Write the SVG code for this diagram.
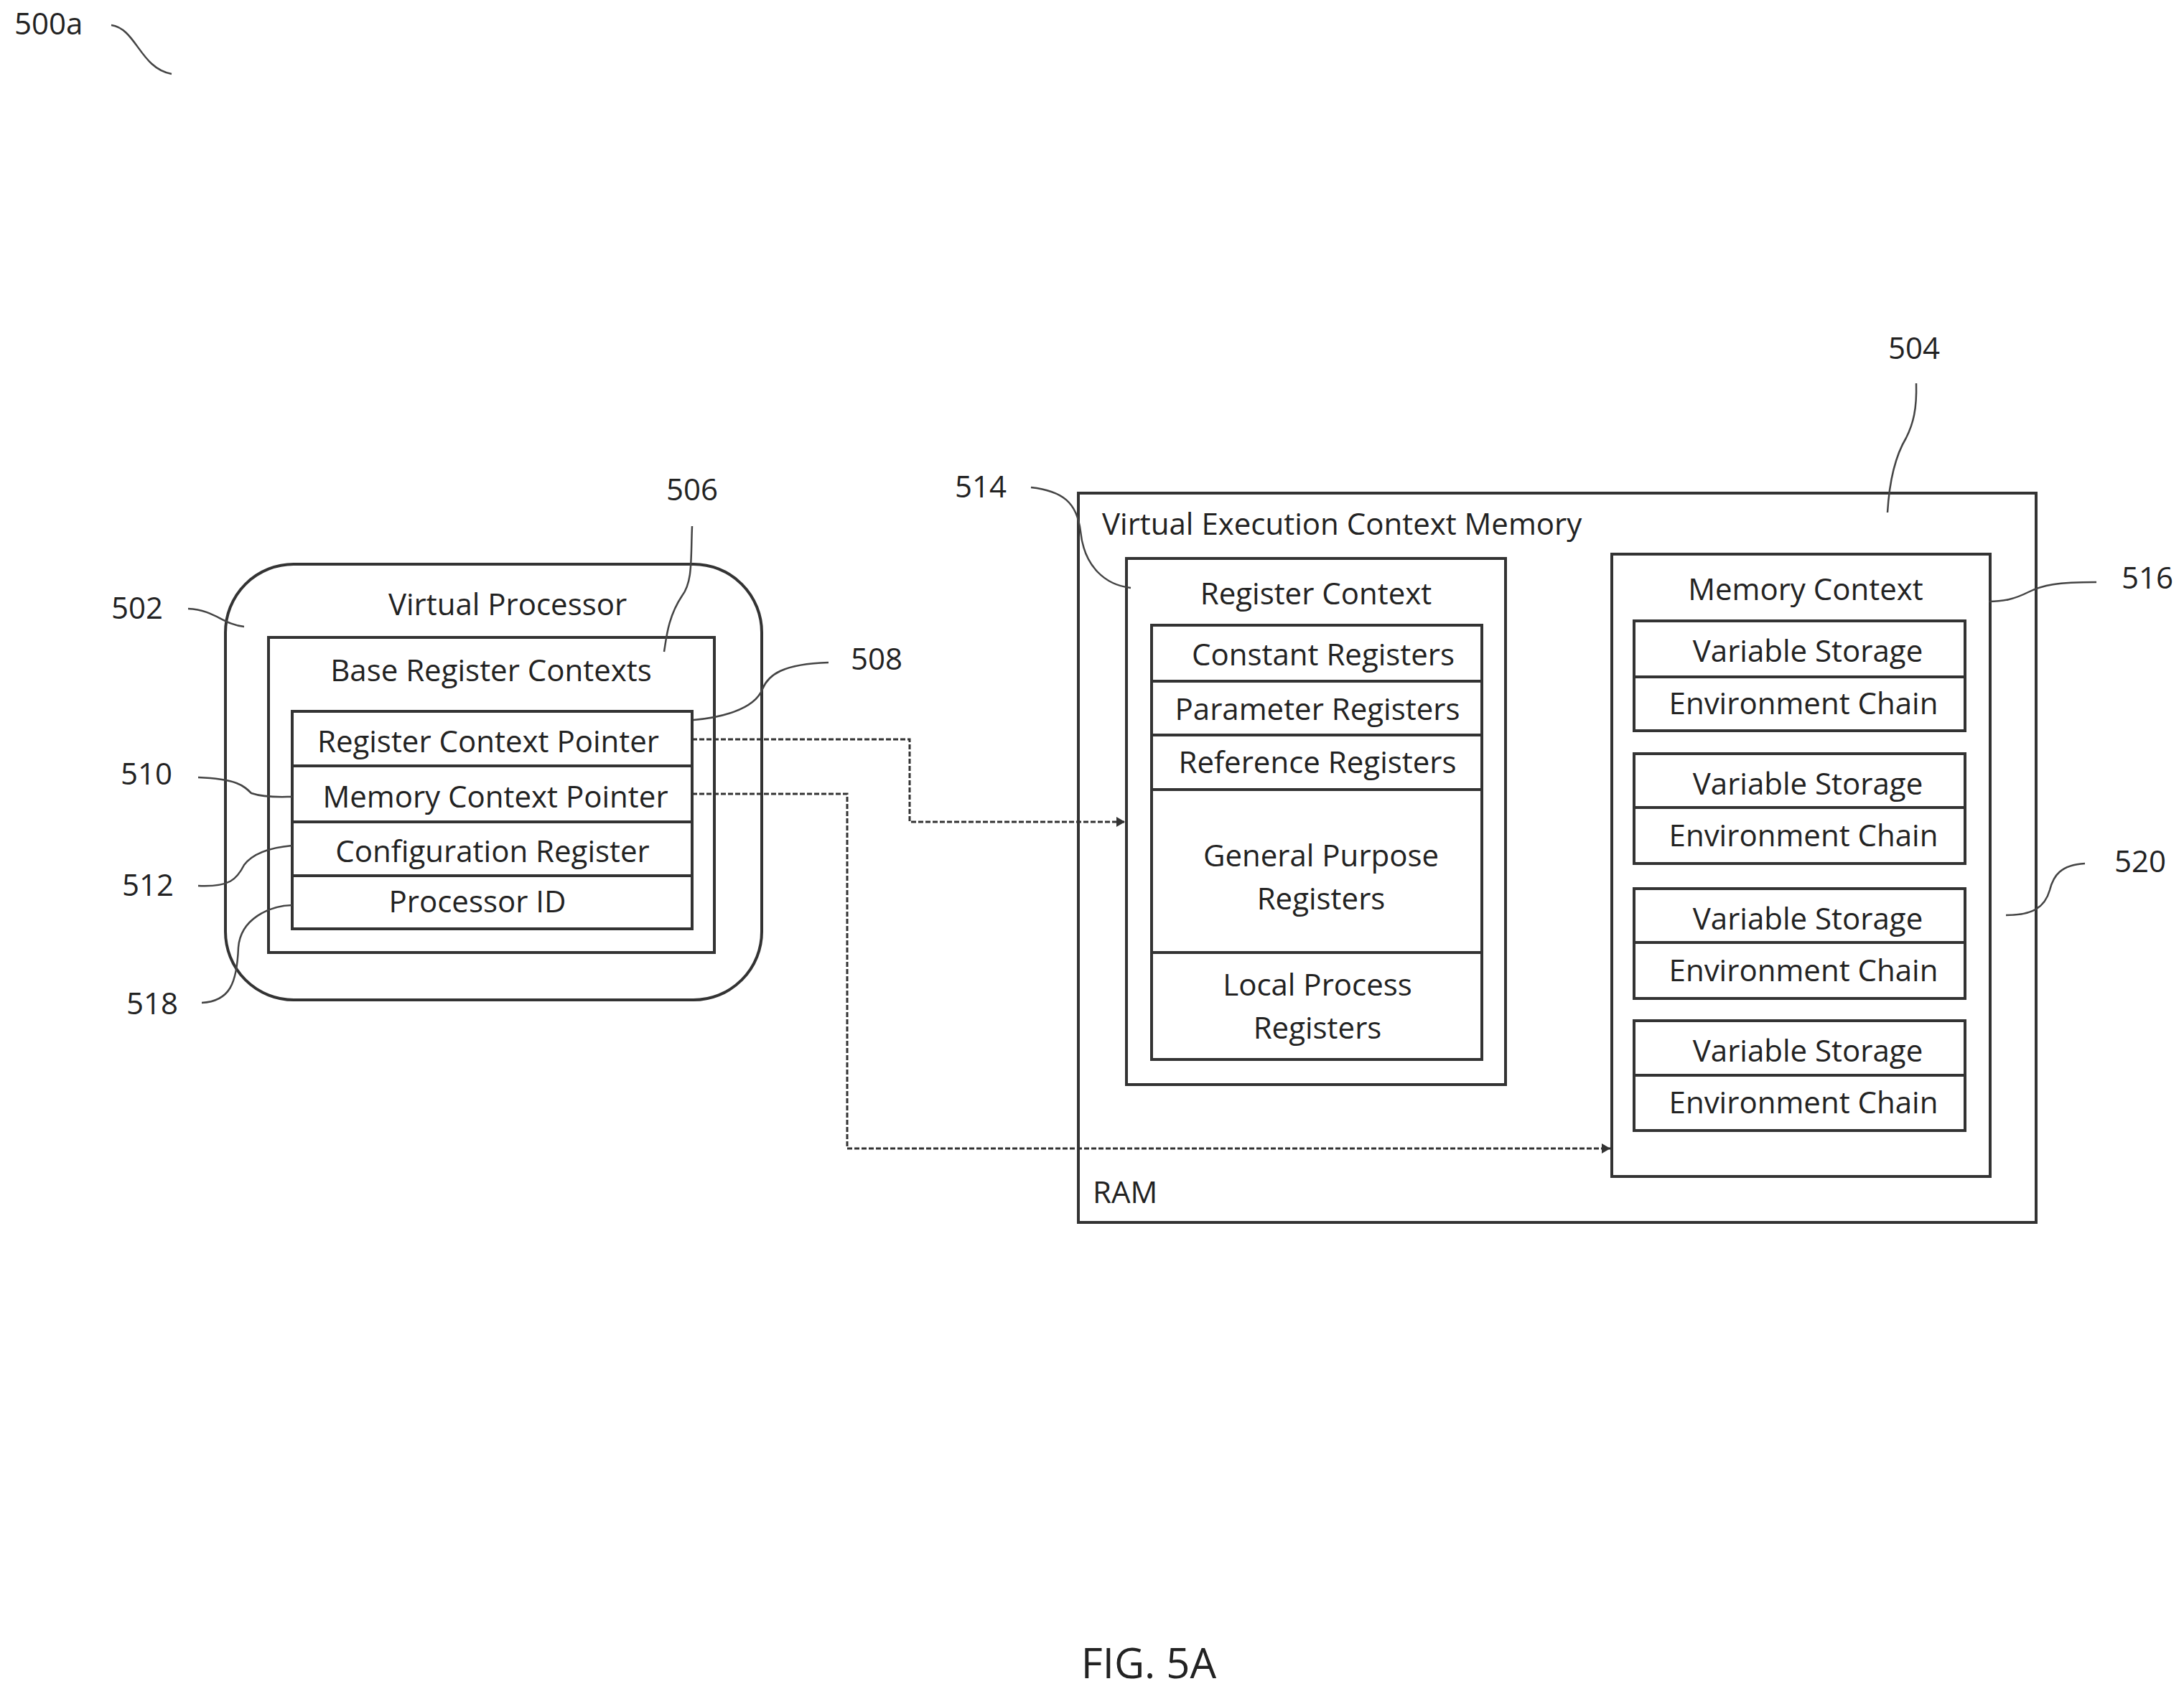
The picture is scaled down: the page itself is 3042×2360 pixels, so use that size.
<svg xmlns="http://www.w3.org/2000/svg" width="3042" height="2360" viewBox="0 0 3042 2360">
<style>
text{font-family:"Open Sans","Liberation Sans",sans-serif;font-size:42px;fill:#222}
.c{text-anchor:middle}
.b{fill:none;stroke:#333;stroke-width:4}
.l{fill:none;stroke:#444;stroke-width:2.5}
.k{fill:none;stroke:#333;stroke-width:3;stroke-dasharray:7 3}
</style>
<defs><marker id="a" markerWidth="14" markerHeight="14" refX="12" refY="7" orient="auto" markerUnits="userSpaceOnUse"><path d="M0,0 L12,7 L0,14 Z" fill="#333"/></marker></defs>
<rect width="3042" height="2360" fill="#fff"/>
<text x="20" y="48">500a</text>
<path class="l" d="M155,35 C190,40 195,95 239,103"/>
<g id="n502"><rect class="b" x="314" y="786" width="747" height="607" rx="95"/><text class="c" x="707" y="857">Virtual Processor</text></g>
<g id="n506"><rect class="b" x="374" y="888" width="621" height="439"/><text class="c" x="684" y="949">Base Register Contexts</text></g>
<g id="n508"><rect class="b" x="407" y="991" width="557" height="76"/><text class="c" x="680" y="1048">Register Context Pointer</text></g>
<g id="n510"><rect class="b" x="407" y="1067" width="557" height="78"/><text class="c" x="690" y="1125">Memory Context Pointer</text></g>
<g id="n512"><rect class="b" x="407" y="1145" width="557" height="75"/><text class="c" x="686" y="1201">Configuration Register</text></g>
<g id="n518"><rect class="b" x="407" y="1220" width="557" height="74"/><text class="c" x="665" y="1271">Processor ID</text></g>
<g id="n504"><rect class="b" x="1502" y="687" width="1334" height="1016"/><text x="1535" y="745">Virtual Execution Context Memory</text><text x="1522" y="1676">RAM</text></g>
<g id="n514"><rect class="b" x="1569" y="778" width="528" height="733"/><text class="c" x="1833" y="842">Register Context</text>
<rect class="b" x="1604" y="871" width="460" height="605"/>
<path class="b" d="M1604,949H2064M1604,1024H2064M1604,1100H2064M1604,1327H2064"/>
<text class="c" x="1843" y="927">Constant Registers</text>
<text class="c" x="1835" y="1003">Parameter Registers</text>
<text class="c" x="1835" y="1077">Reference Registers</text>
<text class="c" x="1840" y="1207">General Purpose</text>
<text class="c" x="1840" y="1267">Registers</text>
<text class="c" x="1835" y="1387">Local Process</text>
<text class="c" x="1835" y="1447">Registers</text></g>
<g id="n516"><rect class="b" x="2245" y="772" width="527" height="867"/><text class="c" x="2515" y="836">Memory Context</text></g>
<g id="n520">
<rect class="b" x="2276" y="865" width="461" height="153"/><path class="b" d="M2276,943H2737"/><text class="c" x="2518" y="922">Variable Storage</text><text class="c" x="2512" y="995">Environment Chain</text>
<rect class="b" x="2276" y="1050" width="461" height="153"/><path class="b" d="M2276,1125H2737"/><text class="c" x="2518" y="1107">Variable Storage</text><text class="c" x="2512" y="1179">Environment Chain</text>
<rect class="b" x="2276" y="1238" width="461" height="153"/><path class="b" d="M2276,1313H2737"/><text class="c" x="2518" y="1295">Variable Storage</text><text class="c" x="2512" y="1367">Environment Chain</text>
<rect class="b" x="2276" y="1422" width="461" height="153"/><path class="b" d="M2276,1498H2737"/><text class="c" x="2518" y="1479">Variable Storage</text><text class="c" x="2512" y="1551">Environment Chain</text>
</g>
<g id="connectors">
<path class="k" d="M964,1030H1267V1145H1567" marker-end="url(#a)"/>
<path class="k" d="M964,1106H1180V1600H2243" marker-end="url(#a)"/>
</g>
<g id="labels">
<text x="155" y="862">502</text><path class="l" d="M262,848 C300,850 310,870 340,873"/>
<text class="c" x="964" y="697">506</text><path class="l" d="M964,733 C962,780 965,810 950,830 C930,860 928,890 925,908"/>
<text x="1185" y="933">508</text><path class="l" d="M1154,923 C1090,925 1070,940 1062,960 C1050,990 1000,1000 966,1003"/>
<text x="168" y="1093">510</text><path class="l" d="M276,1083 C330,1085 340,1095 350,1105 C370,1112 395,1110 407,1110"/>
<text x="170" y="1248">512</text><path class="l" d="M276,1234 C320,1236 330,1225 340,1205 C355,1185 385,1180 407,1178"/>
<text x="176" y="1413">518</text><path class="l" d="M281,1397 C320,1395 330,1370 332,1320 C335,1280 375,1262 407,1261"/>
<text x="1330" y="693">514</text><path class="l" d="M1436,679 C1480,684 1500,700 1505,740 C1510,790 1540,815 1575,819"/>
<text class="c" x="2666" y="500">504</text><path class="l" d="M2669,534 C2670,570 2665,590 2655,610 C2637,640 2631,680 2629,714"/>
<text x="2955" y="820">516</text><path class="l" d="M2920,811 C2865,811 2845,815 2825,825 C2805,835 2790,838 2770,838"/>
<text x="2945" y="1215">520</text><path class="l" d="M2904,1203 C2870,1205 2860,1220 2855,1240 C2848,1265 2830,1275 2794,1275"/>
</g>
<text class="c" x="1600" y="2338" style="font-size:58px">FIG. 5A</text>
</svg>
